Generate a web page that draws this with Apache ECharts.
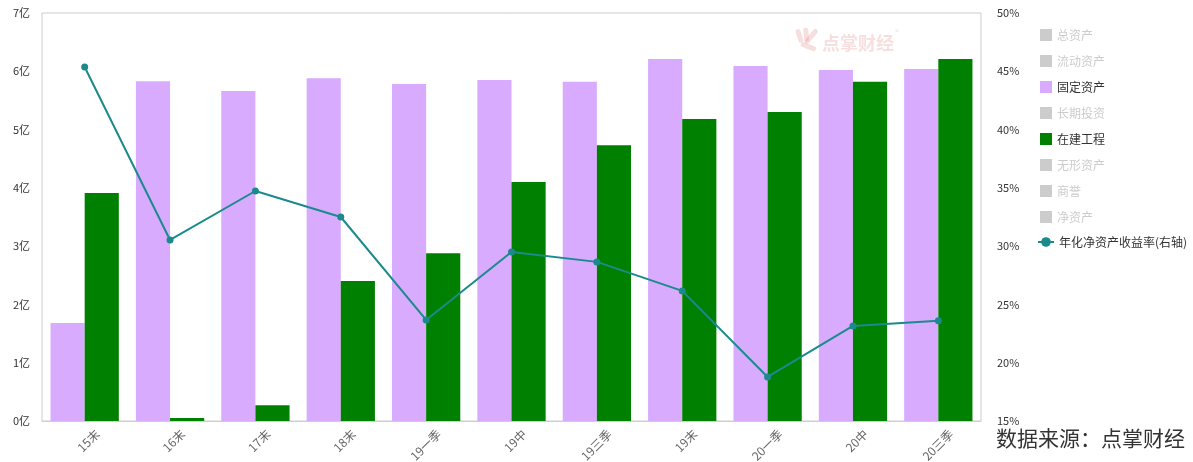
<!DOCTYPE html>
<html><head><meta charset="utf-8">
<script src="https://cdn.jsdelivr.net/npm/echarts@6/dist/echarts.min.js"></script>
<style>html,body{margin:0;padding:0;background:#fff}#c{width:1193px;height:462px}</style>
</head><body><div id="c"></div>
<script>
const categories = ['15末','16末','17末','18末','19一季','19中','19三季','19末','20一季','20中','20三季'];
const totalAssets = [];
const currentAssets = [];
const fixedAssets = [1.68, 5.83, 5.66, 5.88, 5.78, 5.85, 5.82, 6.21, 6.09, 6.02, 6.04];
const longInvest = [];
const construction = [3.91, 0.05, 0.27, 2.40, 2.88, 4.10, 4.73, 5.18, 5.30, 5.82, 6.21];
const intangible = [];
const goodwill = [];
const netAssets = [];
const roe = [45.37, 30.53, 34.73, 32.5, 23.67, 29.5, 28.65, 26.16, 18.78, 23.16, 23.59];
const leftTicks = {min: 0, max: 7, interval: 1};
const rightTicks = {min: 15, max: 50, interval: 5};

const FONT = '"Noto Sans CJK SC", "Noto Sans", sans-serif';
const chart = echarts.init(document.getElementById('c'));
const barNames = ['总资产','流动资产','固定资产','长期投资','在建工程','无形资产','商誉','净资产'];
const hiddenColor = '#cccccc';
const wm = 'rgba(226,140,140,0.28)';
function bar(name, data, color) {
  return {name, type: 'bar', data, yAxisIndex: 0, barGap: '0%', barCategoryGap: '20%',
    itemStyle: {color}};
}
chart.setOption({
  animation: false,
  textStyle: {fontFamily: FONT},
  grid: {left: 42, right: 212, top: 13, bottom: 41, show: true, borderColor: '#ccc', borderWidth: 1,
    containLabel: false, outerBoundsMode: 'none'},
  legend: [{
    orient: 'vertical', left: 1035, top: 24, itemWidth: 12, itemHeight: 12, itemGap: 14,
    icon: 'rect', textStyle: {fontSize: 12, color: '#333', fontFamily: FONT},
    inactiveColor: hiddenColor,
    data: barNames,
    selected: {'总资产': false, '流动资产': false, '长期投资': false, '无形资产': false, '商誉': false, '净资产': false}
  }, {
    orient: 'vertical', left: 1032, top: 231, itemWidth: 16, itemHeight: 12,
    textStyle: {fontSize: 12, color: '#333', fontFamily: FONT},
    data: ['年化净资产收益率(右轴)']
  }],
  xAxis: {
    type: 'category', data: categories,
    axisLine: {lineStyle: {color: '#c8d0e0'}},
    axisTick: {show: false},
    axisLabel: {rotate: 45, color: '#666', fontSize: 12, margin: 8, interval: 0,
      verticalAlign: 'top', padding: [5, -7, 0, 0]}
  },
  yAxis: [{
    type: 'value', min: leftTicks.min, max: leftTicks.max, interval: leftTicks.interval,
    axisLine: {show: false}, axisTick: {show: false}, splitLine: {show: false},
    axisLabel: {formatter: '{value}亿', color: '#333', fontSize: 11, margin: 12}
  }, {
    type: 'value', min: rightTicks.min, max: rightTicks.max, interval: rightTicks.interval,
    axisLine: {show: false}, axisTick: {show: false}, splitLine: {show: false},
    axisLabel: {formatter: '{value}%', color: '#333', fontSize: 11, margin: 16}
  }],
  series: [
    bar('总资产', totalAssets, '#c23531'),
    bar('流动资产', currentAssets, '#2f4554'),
    bar('固定资产', fixedAssets, '#D8ABFE'),
    bar('长期投资', longInvest, '#61a0a8'),
    bar('在建工程', construction, '#008000'),
    bar('无形资产', intangible, '#d48265'),
    bar('商誉', goodwill, '#91c7ae'),
    bar('净资产', netAssets, '#749f83'),
    {name: '年化净资产收益率(右轴)', type: 'line', yAxisIndex: 1, data: roe,
     symbol: 'circle', symbolSize: 7, z: 10,
     lineStyle: {color: '#1B8A8C', width: 2}, itemStyle: {color: '#1B8A8C'}}
  ],
  graphic: [
    {type: 'text', right: 8, top: 428, style: {text: '数据来源：点掌财经', font: '21px ' + FONT, fill: '#333'}},
    {type: 'text', left: 822, top: 34, style: {text: '点掌财经', font: 'bold 18px ' + FONT, fill: wm}},
    {type: 'text', left: 895, top: 28, style: {text: '®', font: '8px ' + FONT, fill: wm}},
    {type: 'rect', shape: {x: 0, y: 0, width: 5, height: 14, r: 2.5}, x: 795, y: 30, rotation: 0.3, style: {fill: wm}},
    {type: 'rect', shape: {x: 0, y: 0, width: 5, height: 14, r: 2.5}, x: 803, y: 28, rotation: 0.1, style: {fill: wm}},
    {type: 'rect', shape: {x: 0, y: 0, width: 5, height: 18, r: 2.5}, x: 815, y: 28, rotation: -0.7, style: {fill: wm}},
    {type: 'rect', shape: {x: 0, y: 0, width: 5, height: 16, r: 2.5}, x: 800, y: 46, rotation: 1.2, style: {fill: wm}}
  ]
});
</script></body></html>
